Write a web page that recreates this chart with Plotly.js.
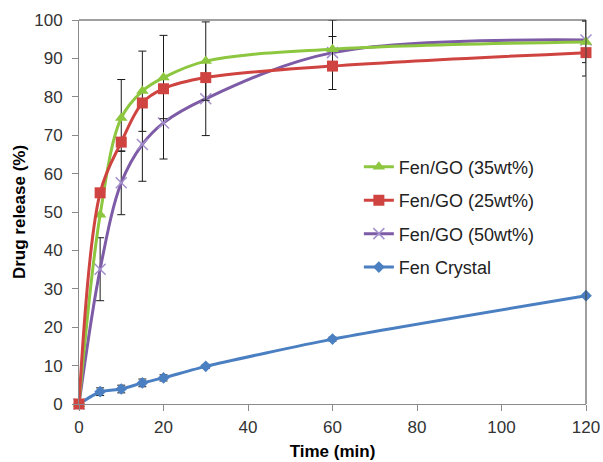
<!DOCTYPE html>
<html>
<head>
<meta charset="utf-8">
<script src="https://cdn.plot.ly/plotly-3.0.1.min.js"></script>
<style>html,body{margin:0;padding:0;background:#fff;}#chart{width:603px;height:462px;}</style>
</head>
<body>
<div id="chart"></div>
<script>
// Data
const time = [0, 5, 10, 15, 20, 30, 60, 120];
const seriesNames = ["Fen/GO (35wt%)", "Fen/GO (25wt%)", "Fen/GO (50wt%)", "Fen Crystal"];

const go35 = [0, 49.3, 74.5, 81.5, 85.0, 89.3, 92.4, 94.3];
const go35ErrPlus = [0, 0, 10.0, 10.4, 11.0, 10.2, 3.3, 5.4];
const go35ErrMinus = [0, 0, 8.7, 10.5, 10.7, 10.2, 3.3, 5.4];

const go25 = [0, 55.0, 68.2, 78.4, 82.1, 85.0, 88.0, 91.5];

const go50 = [0, 35.1, 57.6, 67.6, 73.2, 79.5, 91.5, 94.8];
const go50ErrPlus = [0, 8.2, 8.3, 9.6, 9.4, 9.6, 8.5, 5.2];
const go50ErrMinus = [0, 8.2, 8.3, 9.6, 9.4, 9.6, 9.6, 9.4];

const crystal = [0, 3.2, 3.9, 5.5, 6.8, 9.8, 16.9, 28.2];
const crystalErr = [0, 1.0, 1.0, 1.0, 0.8, 0.5, 0.5, 0];

const xTicks = [0, 20, 40, 60, 80, 100, 120];
const yTicks = [0, 10, 20, 30, 40, 50, 60, 70, 80, 90, 100];

const font = "Liberation Sans, Arial, sans-serif";
const errStyle = {color: "#1a1a1a", thickness: 1, width: 4};

const traces = [
  {
    x: time, y: crystal, name: seriesNames[3], legendrank: 4, legendgroup: "d",
    mode: "lines+markers", cliponaxis: false,
    line: {color: "#4A7FC1", width: 3, shape: "spline", smoothing: 0.6},
    marker: {symbol: "diamond", size: 9, color: "#4A7FC1"},
    error_y: Object.assign({type: "data", array: crystalErr, visible: true}, errStyle)
  },
  {
    x: time, y: go50, name: seriesNames[2], legendrank: 3, legendgroup: "c",
    mode: "lines+markers", cliponaxis: false,
    line: {color: "#7D5BA6", width: 3, shape: "spline", smoothing: 1},
    marker: {symbol: "x-thin-open", size: 11, line: {color: "#A38FCB", width: 1.5}, color: "#A38FCB"},
    error_y: Object.assign({type: "data", symmetric: false, array: go50ErrPlus, arrayminus: go50ErrMinus, visible: true}, errStyle)
  },
  {
    x: time, y: go35, name: seriesNames[0], legendrank: 1, legendgroup: "a",
    mode: "lines+markers", cliponaxis: false,
    line: {color: "#8DC63F", width: 3, shape: "spline", smoothing: 1},
    marker: {symbol: "triangle-up", size: 11, color: "#8DC63F"},
    error_y: Object.assign({type: "data", symmetric: false, array: go35ErrPlus, arrayminus: go35ErrMinus, visible: true}, errStyle)
  },
  {
    x: time, y: go25, name: seriesNames[1], legendrank: 2, legendgroup: "b",
    mode: "lines+markers", cliponaxis: false,
    line: {color: "#CF4440", width: 3, shape: "spline", smoothing: 1},
    marker: {symbol: "square", size: 11, color: "#CF4440"}
  }
];

const layout = {
  width: 603, height: 462,
  margin: {l: 79, r: 17, t: 20, b: 58},
  paper_bgcolor: "#fff", plot_bgcolor: "#fff",
  font: {family: font, size: 17, color: "#333"},
  showlegend: true,
  legend: {
    x: 0.552, y: 0.665, xanchor: "left", yanchor: "top",
    bgcolor: "rgba(0,0,0,0)", traceorder: "grouped", tracegroupgap: 7,
    font: {family: font, size: 18, color: "#222"}
  },
  xaxis: {
    range: [0, 120], tickvals: xTicks, ticktext: xTicks.map(String),
    showgrid: false, zeroline: false, showline: true, linecolor: "#8a8a8a", linewidth: 1,
    ticks: "outside", ticklen: 6, tickcolor: "#8a8a8a", ticklabelstandoff: 2,
    tickfont: {family: font, size: 17, color: "#333"},
    title: {text: "<b>Time (min)</b>", font: {family: font, size: 17, color: "#000"}, standoff: 8}
  },
  yaxis: {
    range: [0, 100], tickvals: yTicks, ticktext: yTicks.map(String),
    showgrid: false, zeroline: false, showline: true, linecolor: "#8a8a8a", linewidth: 1,
    ticks: "outside", ticklen: 6, tickcolor: "#8a8a8a", ticklabelstandoff: 6,
    tickfont: {family: font, size: 17, color: "#333"},
    title: {text: "<b>Drug release (%)</b>", font: {family: font, size: 17, color: "#000"}, standoff: 4}
  },
  shapes: [
    {type: "line", xref: "paper", yref: "paper", x0: 0, x1: 1, y0: 1, y1: 1, line: {color: "#404040", width: 1}},
    {type: "line", xref: "paper", yref: "paper", x0: 1, x1: 1, y0: 0, y1: 1, line: {color: "#404040", width: 1}}
  ]
};

Plotly.newPlot("chart", traces, layout, {displayModeBar: false, staticPlot: true});
</script>
</body>
</html>
